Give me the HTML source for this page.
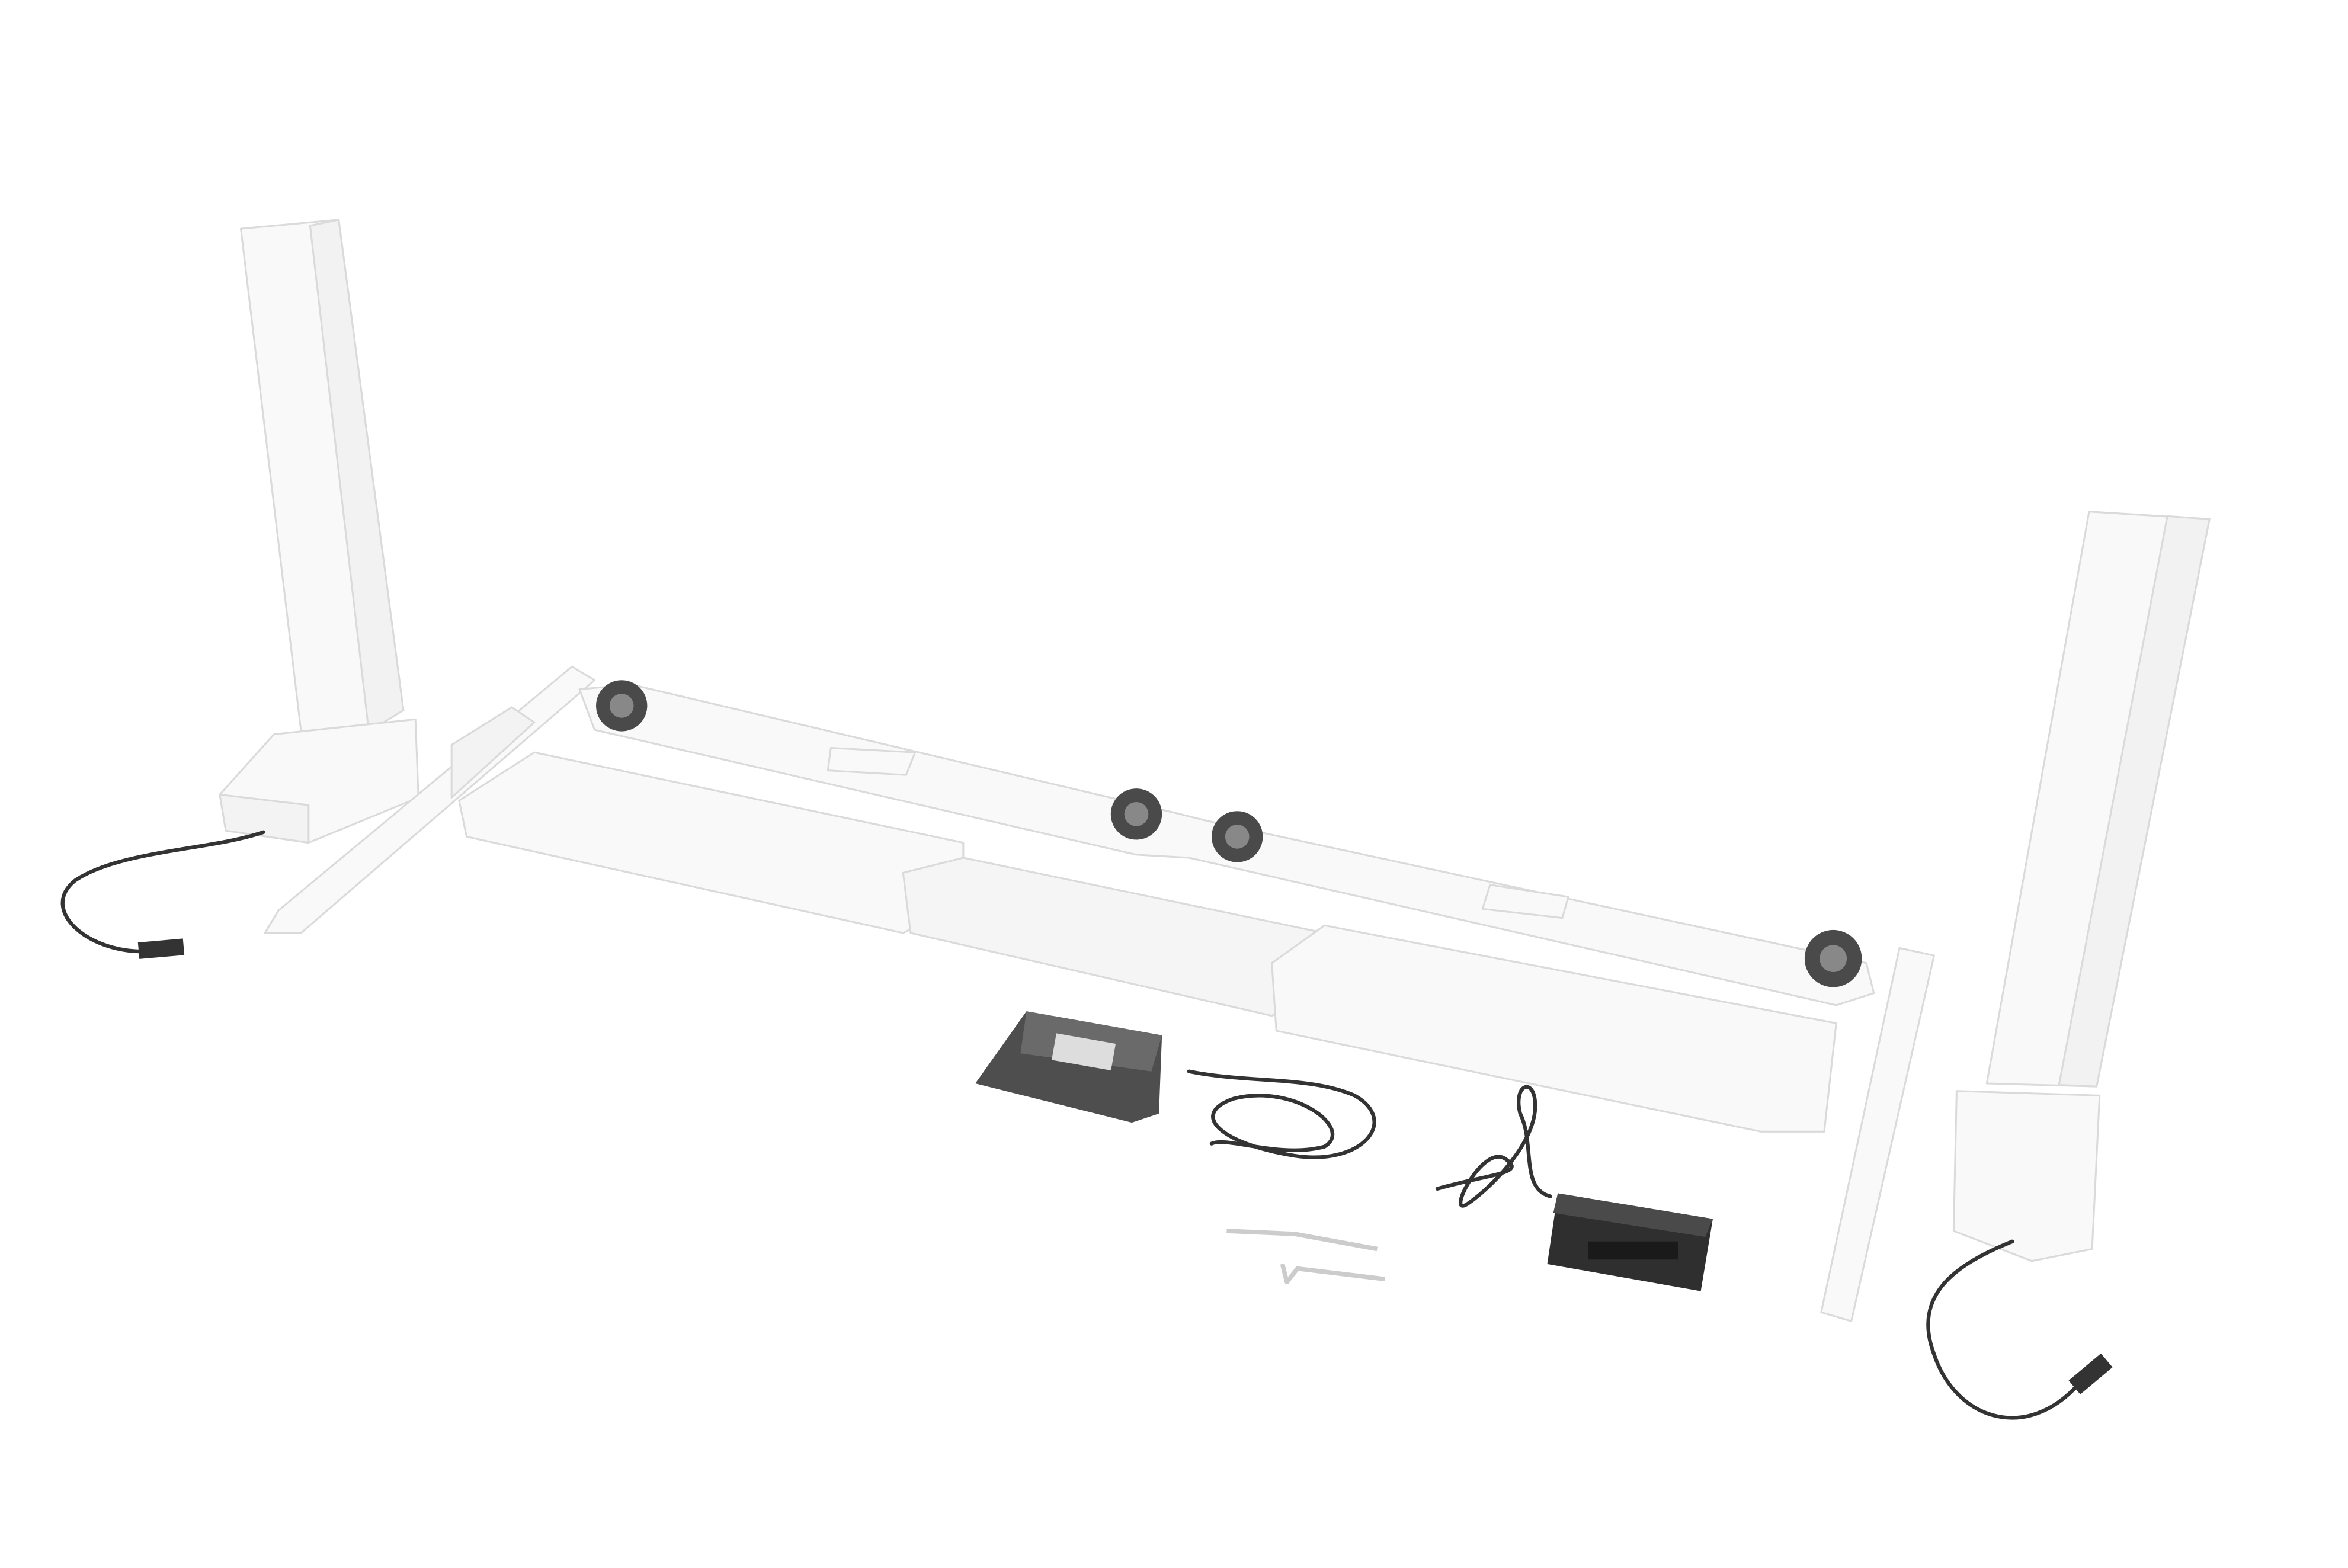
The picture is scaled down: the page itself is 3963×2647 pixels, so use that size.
<!DOCTYPE html>
<html><head><meta charset="utf-8"><style>
html,body{margin:0;padding:0;background:#fff;}
svg{display:block;}
</style></head><body>
<svg width="3963" height="2647" viewBox="0 0 1560 1042" xmlns="http://www.w3.org/2000/svg">
<rect width="1560" height="1042" fill="#fff"/>
<g stroke="#dadada" stroke-width="1.2" fill="#f9f9f9" stroke-linejoin="round">
<!-- left column -->
<polygon points="160,152 225,146 268,472 240,488 200,486"/>
<polygon points="206,150 225,146 268,472 245,486" fill="#f2f2f2"/>
<!-- left foot box -->
<polygon points="146,528 182,488 276,478 278,530 205,560 150,552"/>
<polygon points="146,528 205,535 205,560 150,552" fill="#f3f3f3"/>
<!-- left foot bar -->
<polygon points="380,443 395,452 200,620 176,620 185,605"/>
<polygon points="300,495 340,470 355,480 300,530" fill="#f3f3f3"/>
<!-- upper beam -->
<polygon points="385,458 420,455 780,540 800,545 1240,640 1245,660 1220,668 790,570 755,568 395,485"/>
<!-- lower beams -->
<polygon points="305,532 355,500 640,560 640,600 600,620 310,556"/>
<polygon points="600,580 640,570 880,620 880,660 845,675 605,620" fill="#f5f5f5"/>
<polygon points="845,640 880,615 1220,680 1212,752 1170,752 848,685"/>
<!-- plates -->
<polygon points="552,497 608,500 602,515 550,512"/>
<polygon points="990,588 1042,596 1038,610 985,604"/>
<!-- right column -->
<polygon points="1388,340 1468,345 1393,722 1320,720"/>
<polygon points="1440,343 1468,345 1393,722 1368,721" fill="#f2f2f2"/>
<!-- right foot box -->
<polygon points="1300,725 1395,728 1390,830 1350,838 1298,818"/>
<!-- right foot bar -->
<polygon points="1262,630 1285,635 1230,878 1210,872"/>
<!-- allen keys -->
<polyline points="815,818 860,820 915,830" fill="none" stroke="#ccc" stroke-width="3"/>
<polyline points="852,840 855,852 862,843 920,850" fill="none" stroke="#ccc" stroke-width="3"/>
</g>
<g>
<circle cx="413" cy="469" r="17" fill="#4a4a4a"/><circle cx="413" cy="469" r="8" fill="#888"/>
<circle cx="755" cy="541" r="17" fill="#4a4a4a"/><circle cx="755" cy="541" r="8" fill="#888"/>
<circle cx="822" cy="556" r="17" fill="#4a4a4a"/><circle cx="822" cy="556" r="8" fill="#888"/>
<circle cx="1218" cy="637" r="19" fill="#4a4a4a"/><circle cx="1218" cy="637" r="9" fill="#888"/>
</g>
<g fill="none" stroke="#333" stroke-width="2.5" stroke-linecap="round">
<path d="M175,553 C140,565 80,565 50,585 C25,605 60,635 100,632"/>
<path d="M1337,825 C1300,840 1270,860 1285,900 C1300,945 1350,960 1385,915"/>
<path d="M790,712 C830,720 870,715 900,728 C930,745 905,775 860,768 C810,760 790,740 820,730 C860,720 900,750 880,762 C850,770 815,755 805,760"/>
<path d="M1030,795 C1010,790 1020,760 1010,740 C1005,720 1020,715 1020,735 C1020,760 990,790 975,800 C960,810 985,760 1000,770 C1015,780 990,780 955,790"/>
</g>
<rect x="92" y="625" width="30" height="11" fill="#333" transform="rotate(-5 107 630)"/>
<rect x="1375" y="907" width="28" height="12" fill="#333" transform="rotate(-40 1389 913)"/>
<polygon points="648,720 682,672 772,688 770,740 752,746" fill="#4e4e4e"/>
<polygon points="682,672 772,688 765,712 678,700" fill="#6a6a6a"/>
<rect x="700" y="690" width="40" height="18" fill="#ddd" transform="rotate(10 720 699)"/>
<polygon points="1035,793 1138,810 1130,858 1028,840" fill="#2f2f2f"/>
<polygon points="1035,793 1138,810 1133,822 1032,806" fill="#4a4a4a"/>
<rect x="1055" y="825" width="60" height="12" fill="#1a1a1a"/>
</svg>
</body></html>
